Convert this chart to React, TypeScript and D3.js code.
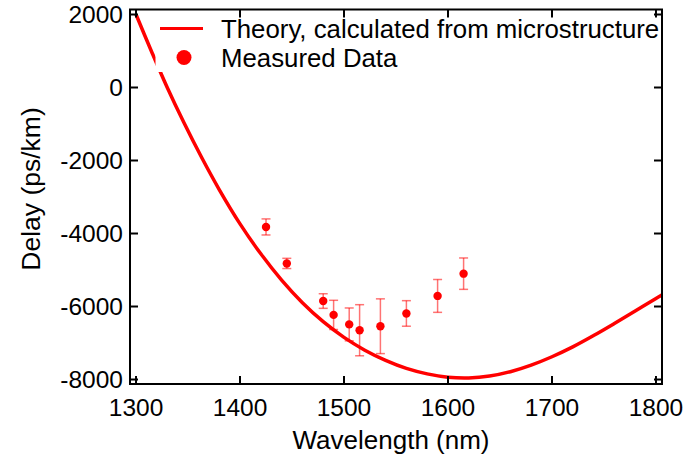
import React from "react";
import * as d3 from "d3";

const theoryWavelength = [1300, 1315, 1330, 1346, 1363, 1380, 1400, 1420, 1440, 1460, 1480, 1500, 1520, 1540, 1560, 1580, 1600, 1620, 1640, 1660, 1680, 1700, 1720, 1740, 1760, 1780, 1800, 1806];
const theoryDelay = [2000, 980, 0, -960, -1912, -2796, -3736, -4556, -5276, -5896, -6416, -6846, -7196, -7476, -7696, -7846, -7936, -7956, -7906, -7786, -7606, -7376, -7106, -6796, -6466, -6126, -5780, -5680];

const measWavelength = [1425, 1445, 1480, 1490, 1505, 1515, 1535, 1560, 1590, 1615];
const measDelay = [-3820, -4820, -5850, -6230, -6490, -6650, -6540, -6190, -5710, -5100];
const measError = [220, 140, 200, 400, 450, 700, 750, 350, 450, 430];

const xTicks = [1300, 1400, 1500, 1600, 1700, 1800];
const yTicks = [2000, 0, -2000, -4000, -6000, -8000];

const legendLabels = ["Theory, calculated from microstructure", "Measured Data"];

const FONT = "'Liberation Sans', Arial, sans-serif";
const RED = "#ff0000";

export default function App() {
  const W = 686, H = 462;
  const left = 130, right = 662, top = 9.5, bottom = 384;
  const x = d3.scaleLinear().domain([1294.2, 1805.8]).range([left, right]);
  const y = d3.scaleLinear().domain([-8123, 2137]).range([bottom, top]);

  const theory = theoryWavelength.map((w, i) => [w, theoryDelay[i]] as [number, number]);
  const line = d3.line<[number, number]>().x(d => x(d[0])).y(d => y(d[1])).curve(d3.curveCatmullRom.alpha(0.5));

  const tickLen = 8;

  return (
    <svg width={W} height={H} style={{ position: "absolute", left: 0, top: 0, background: "#fff" }}>
      <defs>
        <clipPath id="plotclip">
          <rect x={left} y={top} width={right - left} height={bottom - top} />
        </clipPath>
      </defs>
      <rect x={0} y={0} width={W} height={H} fill="#fff" />
      <g clipPath="url(#plotclip)">
        <path d={line(theory) || ""} fill="none" stroke={RED} strokeWidth={3.5} />
      </g>
      {/* legend box */}
      <rect x={155.5} y={top} width={right - 155.5} height={72 - top} fill="#fff" />
      <line x1={160} x2={203} y1={28.5} y2={28.5} stroke={RED} strokeWidth={3} />
      <circle cx={184} cy={57.5} r={7.5} fill={RED} />
      <text x={221} y={37.5} fontFamily={FONT} fontSize={25.8} fill="#000">{legendLabels[0]}</text>
      <text x={221} y={66.5} fontFamily={FONT} fontSize={25.8} fill="#000">{legendLabels[1]}</text>

      {/* measured data */}
      <g>
        {measWavelength.map((w, i) => {
          const cx = x(w);
          const y1 = y(measDelay[i] + measError[i]);
          const y2 = y(measDelay[i] - measError[i]);
          return (
            <g key={i} stroke={RED} strokeOpacity={0.55} strokeWidth={1.5}>
              <line x1={cx} x2={cx} y1={y1} y2={y2} />
              <line x1={cx - 4.5} x2={cx + 4.5} y1={y1} y2={y1} />
              <line x1={cx - 4.5} x2={cx + 4.5} y1={y2} y2={y2} />
            </g>
          );
        })}
        {measWavelength.map((w, i) => (
          <circle key={i} cx={x(w)} cy={y(measDelay[i])} r={4.2} fill={RED} />
        ))}
      </g>

      {/* frame */}
      <rect x={left} y={top} width={right - left} height={bottom - top} fill="none" stroke="#000" strokeWidth={2} />
      {xTicks.map(t => (
        <g key={t} stroke="#000" strokeWidth={2}>
          <line x1={x(t)} x2={x(t)} y1={bottom} y2={bottom - tickLen} />
          <line x1={x(t)} x2={x(t)} y1={top} y2={top + tickLen} />
        </g>
      ))}
      {yTicks.map(t => (
        <g key={t} stroke="#000" strokeWidth={2}>
          <line x1={left} x2={left + tickLen} y1={y(t)} y2={y(t)} />
          <line x1={right} x2={right - tickLen} y1={y(t)} y2={y(t)} />
        </g>
      ))}
      {xTicks.map(t => (
        <text key={t} x={x(t)} y={415.5} textAnchor="middle" fontFamily={FONT} fontSize={24.5} fill="#000">{t}</text>
      ))}
      {yTicks.map(t => (
        <text key={t} x={123} y={y(t) + 8.8} textAnchor="end" fontFamily={FONT} fontSize={24.5} fill="#000">{t}</text>
      ))}
      <text x={391} y={449} textAnchor="middle" fontFamily={FONT} fontSize={26} fill="#000">Wavelength (nm)</text>
      <text transform={`translate(40,189) rotate(-90)`} textAnchor="middle" fontFamily={FONT} fontSize={26.5} fill="#000">Delay (ps/km)</text>
    </svg>
  );
}
